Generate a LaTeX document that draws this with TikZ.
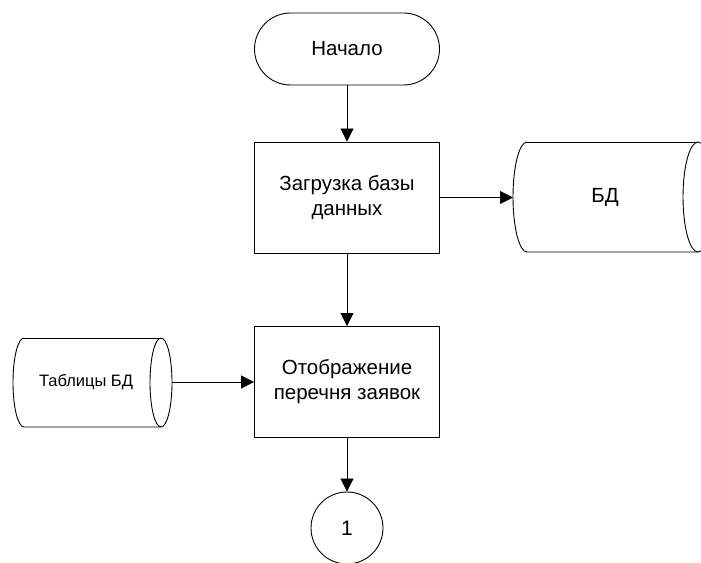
\documentclass[tikz,border=0pt]{standalone}
\usepackage{fontspec}
\setmainfont{Liberation Sans}
\usetikzlibrary{arrows.meta}
\begin{document}
\begin{tikzpicture}[x=1pt,y=1pt,
  line width=0.9pt,
  proc/.style={draw, rectangle, minimum width=185pt, minimum height=111pt, align=center, inner sep=0pt, font=\fontsize{20.5}{25}\selectfont},
  term/.style={draw, rectangle, rounded corners=36pt, minimum width=185pt, minimum height=72pt, inner sep=0pt, font=\fontsize{20.5}{24}\selectfont},
  conn/.style={draw, circle, minimum size=72pt, inner sep=0pt, font=\fontsize{21}{24}\selectfont},
  link/.style={-{Triangle[length=13pt,width=13pt]}},
  lbl/.style={inner sep=0pt}]
\useasboundingbox (0,0) rectangle (701,562);
\clip (0,0) rectangle (701,562);
\fill[white] (0,0) rectangle (701,562);

\node[term] (start) at (347,513) {Начало};
\node[proc] (load) at (347,364.5) {Загрузка базы\\данных};
\node[proc] (show) at (347,180) {Отображение\\перечня заявок};
\node[conn] (c1) at (347,34) {1};

% БД cylinder
\draw (527,420) arc (90:270:14 and 55) -- (698,310);
\draw (527,420) -- (698,420);
\draw (698,365) ellipse (15 and 55);
\node[lbl, font=\fontsize{20.5}{24}\selectfont] (bd) at (605,365) {БД};
\coordinate (bdw) at (513,364.5);

% Таблицы БД cylinder
\draw (24,224) arc (90:270:11 and 44.5) -- (161,135);
\draw (24,224) -- (161,224);
\draw (161,179.5) ellipse (11 and 44.5);
\node[lbl, font=\fontsize{16.5}{20}\selectfont] (tbl) at (86,180) {Таблицы БД};
\coordinate (tble) at (172,180);

\draw[link] (start.south) -- (load.north);
\draw[link] (load.east) -- (bdw);
\draw[link] (load.south) -- (show.north);
\draw[link] (tble) -- (show.west);
\draw[link] (show.south) -- (c1.north);
\end{tikzpicture}
\end{document}
